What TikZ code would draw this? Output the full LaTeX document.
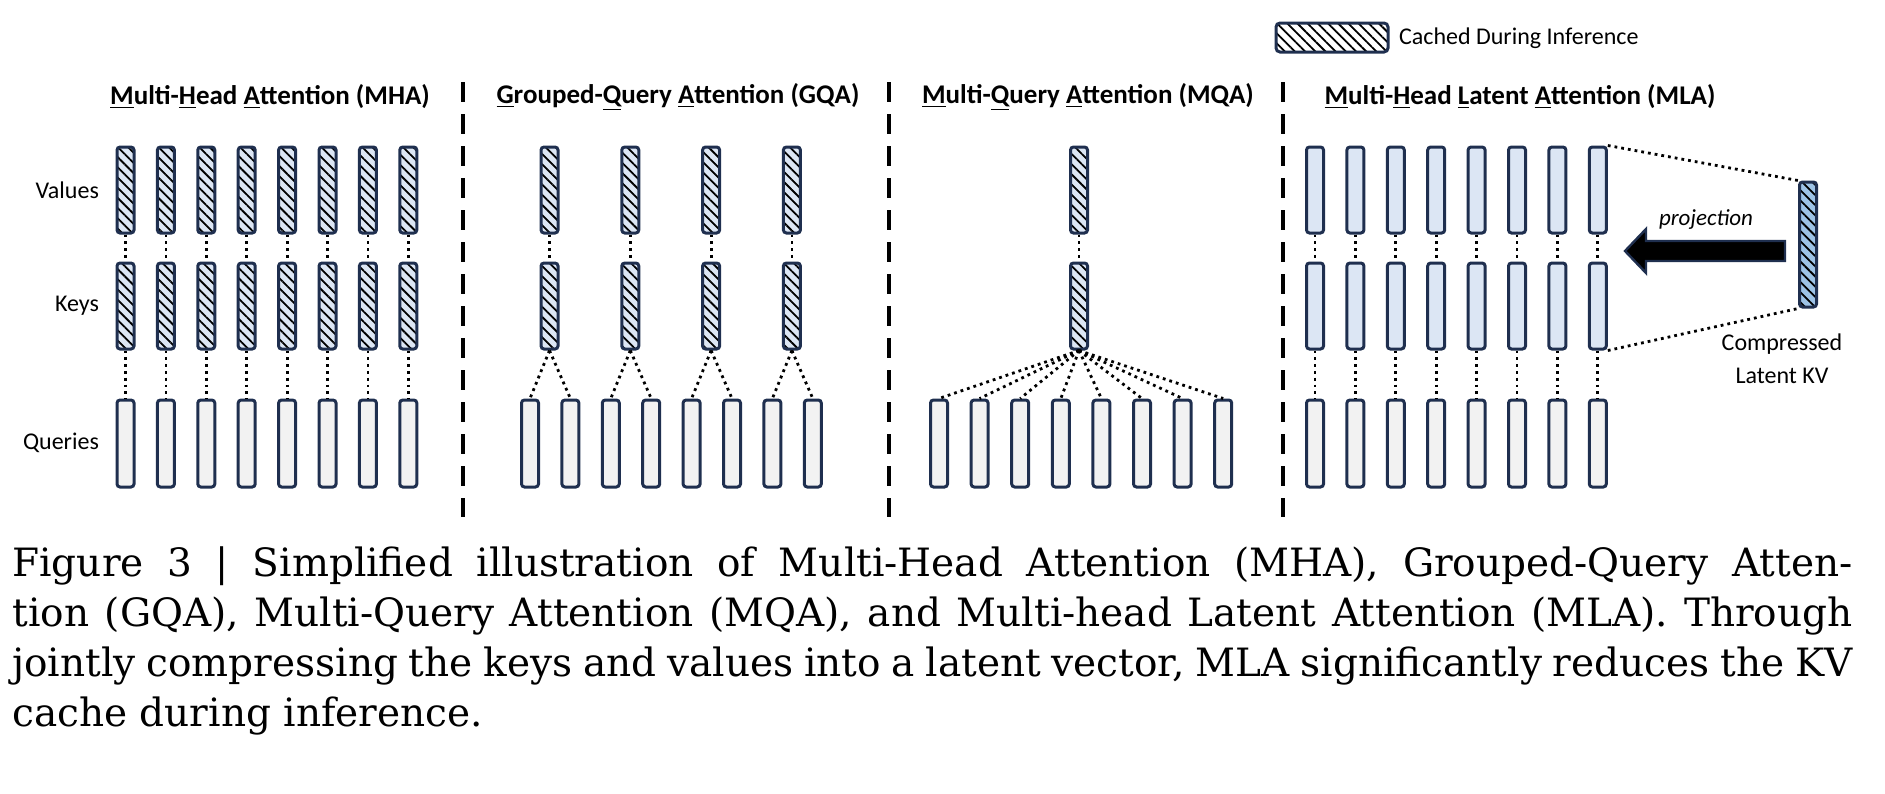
\documentclass[tikz,border=0pt]{standalone}
\usepackage{fontspec}
\setmainfont{DejaVu Serif}
\newfontfamily\calfnt{Carlito}
\usetikzlibrary{patterns.meta}
\definecolor{navy}{HTML}{1F2F4F}
\definecolor{lblue}{HTML}{DCE6F4}
\definecolor{qgray}{HTML}{F2F2F2}
\definecolor{latblue}{HTML}{9DC3E6}
\begin{document}
\begin{tikzpicture}[x=0.5pt,y=-0.5pt,
  bar/.style={draw=navy,line width=1.5pt,rounded corners=1.5pt,minimum width=8.5pt,minimum height=43pt,inner sep=0pt},
  hbar/.style={bar,preaction={fill=lblue},pattern={Lines[angle=-45,distance=3.6pt,line width=0.9pt]},pattern color=black},
  lbar/.style={bar,fill=lblue},
  qbar/.style={bar,fill=qgray,minimum height=43.5pt},
  dot/.style={line width=1.4pt,dotted},
  divider/.style={line width=1.6pt,dash pattern=on 10pt off 6pt},
  ttl/.style={font=\calfnt\bfseries\fontsize{13.5}{15}\selectfont},
  lbl/.style={font=\calfnt\fontsize{12}{13}\selectfont,anchor=east}]
\useasboundingbox (0,0) rectangle (1885,793);
% legend
\node[hbar,preaction={fill=white},minimum width=56pt,minimum height=14.5pt,rounded corners=2pt] (leg) at (1332,37.5) {};
\node[font=\calfnt\fontsize{12}{13}\selectfont,anchor=west] (legt) at (1392,38) {Cached During Inference};
% titles
\node[ttl] (t1) at (270,97) {\underline{M}ulti-\underline{H}ead \underline{A}ttention (MHA)};
\node[ttl] (t2) at (678,97) {\underline{G}rouped-\underline{Q}uery \underline{A}ttention (GQA)};
\node[ttl] (t3) at (1088,97) {\underline{M}ulti-\underline{Q}uery \underline{A}ttention (MQA)};
\node[ttl] (t4) at (1520,97) {\underline{M}ulti-\underline{H}ead \underline{L}atent \underline{A}ttention (MLA)};
% dividers
\coordinate (d1a) at (463,82); \coordinate (d1b) at (463,517);
\coordinate (d2a) at (889,82); \coordinate (d2b) at (889,517);
\coordinate (d3a) at (1283,82); \coordinate (d3b) at (1283,517);
\draw[divider] (d1a) -- (d1b); \draw[divider] (d2a) -- (d2b); \draw[divider] (d3a) -- (d3b);
% row labels
\node[lbl] (lv) at (106,190) {Values};
\node[lbl] (lk) at (106,306) {Keys};
\node[lbl] (lq) at (106,443) {Queries};
% MHA
\foreach \i in {1,...,8}{
  \pgfmathsetmacro\xx{125.5+40.4*(\i-1)}
  \node[hbar] (av\i) at (\xx,190) {};
  \node[hbar] (ak\i) at (\xx,306) {};
  \node[qbar] (aq\i) at (\xx,443.5) {};
  \draw[dot] (av\i.south) -- (ak\i.north);
  \draw[dot] (ak\i.south) -- (aq\i.north);
}
% GQA
\foreach \i in {1,...,8}{
  \pgfmathsetmacro\xx{530+40.4*(\i-1)}
  \node[qbar] (gq\i) at (\xx,443.5) {};
}
\foreach \i/\a/\b in {1/1/2,2/3/4,3/5/6,4/7/8}{
  \pgfmathsetmacro\xx{549.5+80.8*(\i-1)}
  \node[hbar] (gv\i) at (\xx,190) {};
  \node[hbar] (gk\i) at (\xx,306) {};
  \draw[dot] (gv\i.south) -- (gk\i.north);
  \draw[dot] (gk\i.south) -- (gq\a.north);
  \draw[dot] (gk\i.south) -- (gq\b.north);
}
% MQA
\node[hbar] (qv) at (1079,190) {};
\node[hbar] (qk) at (1079,306) {};
\draw[dot] (qv.south) -- (qk.north);
\foreach \i in {1,...,8}{
  \pgfmathsetmacro\xx{939+40.6*(\i-1)}
  \node[qbar] (qq\i) at (\xx,443.5) {};
  \draw[dot] (qk.south) -- (qq\i.north);
}
% MLA
\foreach \i in {1,...,8}{
  \pgfmathsetmacro\xx{1315+40.4*(\i-1)}
  \node[lbar] (mv\i) at (\xx,190) {};
  \node[lbar] (mk\i) at (\xx,306) {};
  \node[qbar] (mq\i) at (\xx,443.5) {};
  \draw[dot] (mv\i.south) -- (mk\i.north);
  \draw[dot] (mk\i.south) -- (mq\i.north);
}
\node[bar,preaction={fill=latblue},pattern={Lines[angle=-45,distance=3.6pt,line width=0.9pt]},pattern color=black,minimum height=62.5pt] (lat) at (1808,244.5) {};
\draw[dot] (mv8.north east) -- (lat.north west);
\draw[dot] (mk8.south east) -- (lat.south west);
\draw[draw=navy,fill=black,line width=1.2pt] (1785,241) -- (1646,241) -- (1646,229) -- (1625,251) -- (1646,273) -- (1646,261) -- (1785,261) -- cycle;
\node[font=\calfnt\itshape\fontsize{11.5}{13}\selectfont] (proj) at (1706,220) {projection};
\node[font=\calfnt\fontsize{12}{16.5}\selectfont,align=center] (cl) at (1782,359) {Compressed\\Latent KV};
% caption
\node[anchor=north west,inner sep=0pt,text width=920pt,align=justify,font=\fontsize{19.5}{25}\selectfont] (cap) at (12,546) {Figure 3 \textbar{} Simplified illustration of Multi-Head Attention (MHA), Grouped-Query Atten-\linebreak tion (GQA), Multi-Query Attention (MQA), and Multi-head Latent Attention (MLA). Through\linebreak jointly compressing the keys and values into a latent vector, MLA significantly reduces the KV\linebreak cache during inference.};
\end{tikzpicture}
\end{document}
